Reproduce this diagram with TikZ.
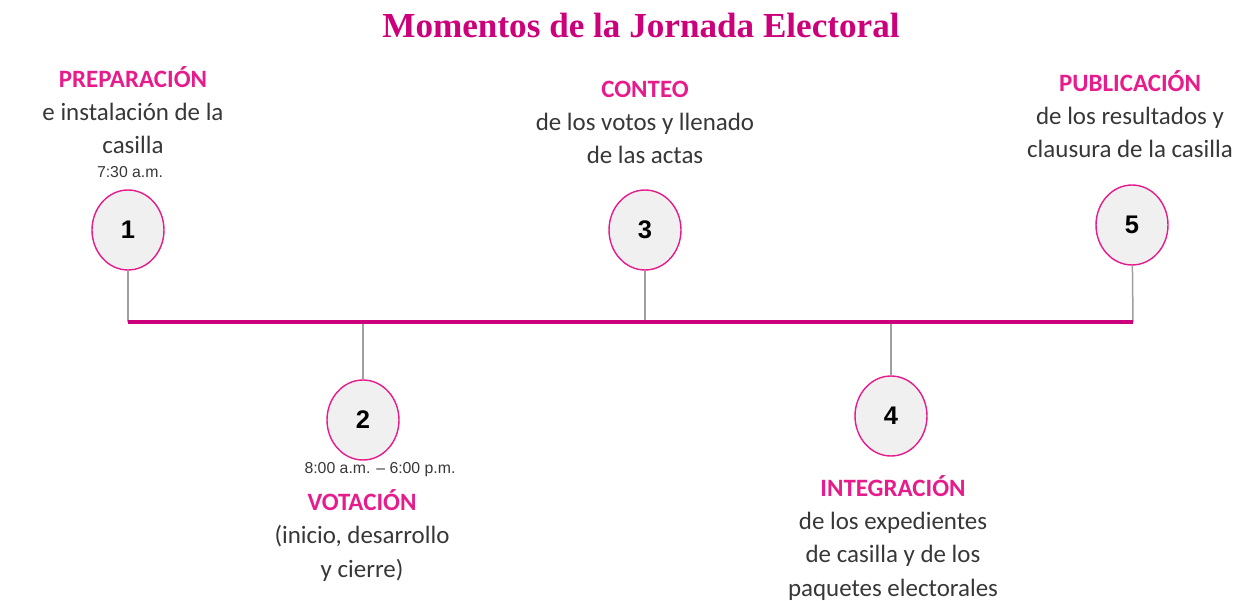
\documentclass[tikz,border=0pt]{standalone}
\usepackage{fontspec}
\setmainfont{Carlito}
\newfontfamily\titlefont{Liberation Serif}
\newfontfamily\numfont{Liberation Sans}
\usetikzlibrary{positioning,shapes.geometric}
\definecolor{rosa}{RGB}{204,0,122}
\definecolor{rosaclaro}{RGB}{230,28,140}
\definecolor{gristexto}{RGB}{55,55,55}
\definecolor{fondo}{RGB}{240,240,240}

\begin{document}
\begin{tikzpicture}[x=0.02cm,y=-0.02cm,
	main node/.style={ellipse,draw=rosaclaro,line width=0.8pt,fill=fondo,minimum width=1.44cm,minimum height=1.6cm,inner sep=0pt,font=\numfont\fontsize{14.5}{14.5}\selectfont\bfseries},
	block/.style={align=center,anchor=base,inner sep=0pt,text=gristexto,font=\fontsize{14.2}{18.8}\selectfont},
	hora/.style={inner sep=0pt,text=gristexto,font=\numfont\fontsize{9}{10}\selectfont},
	linea/.style={draw=rosa,line width=2.3pt},
	conn/.style={draw=gray!75,line width=0.85pt}]
	
	\useasboundingbox (0,0) rectangle (1258,601);
	
	\node (titulo) at (641,25) {\titlefont\fontsize{20}{22}\selectfont\bfseries\color{rosa}Momentos de la Jornada Electoral};
	
	% circulos
	\node[main node] (1) at (128,230) {1};
	\node[main node] (2) at (363,420) {2};
	\node[main node] (3) at (645,230) {3};
	\node[main node] (4) at (891,416) {4};
	\node[main node] (5) at (1132,225) {5};
	
	% linea del tiempo
	\coordinate (t1) at (128,322);
	\coordinate (t2) at (363,322);
	\coordinate (t3) at (645,322);
	\coordinate (t4) at (891,322);
	\coordinate (t5) at (1133,322);
	
	\path[conn] (1) edge (t1)
	(2) edge (t2)
	(3) edge (t3)
	(4) edge (t4)
	(5) edge (t5);
	\draw[linea] (t1) -- (t5);
	
	% textos
	\node[block] (prep) at (133,154) {\textbf{\color{rosaclaro}PREPARACIÓN}\\e instalación de la\\casilla};
	\node[hora] (h1) at (130,172) {7:30 a.m.};
	\node[hora] (h2) at (380,470) {8:00 a.m. – 6:00 p.m.};
	\node[block] (vot) at (362,577) {\textbf{\color{rosaclaro}VOTACIÓN}\\(inicio, desarrollo\\y cierre)};
	\node[block] (conteo) at (645,164) {\textbf{\color{rosaclaro}CONTEO}\\de los votos y llenado\\de las actas};
	\node[block] (integ) at (893,596) {\textbf{\color{rosaclaro}INTEGRACIÓN}\\de los expedientes\\de casilla y de los\\paquetes electorales};
	\node[block] (pub) at (1130,158) {\textbf{\color{rosaclaro}PUBLICACIÓN}\\de los resultados y\\clausura de la casilla};
\end{tikzpicture}
\end{document}
